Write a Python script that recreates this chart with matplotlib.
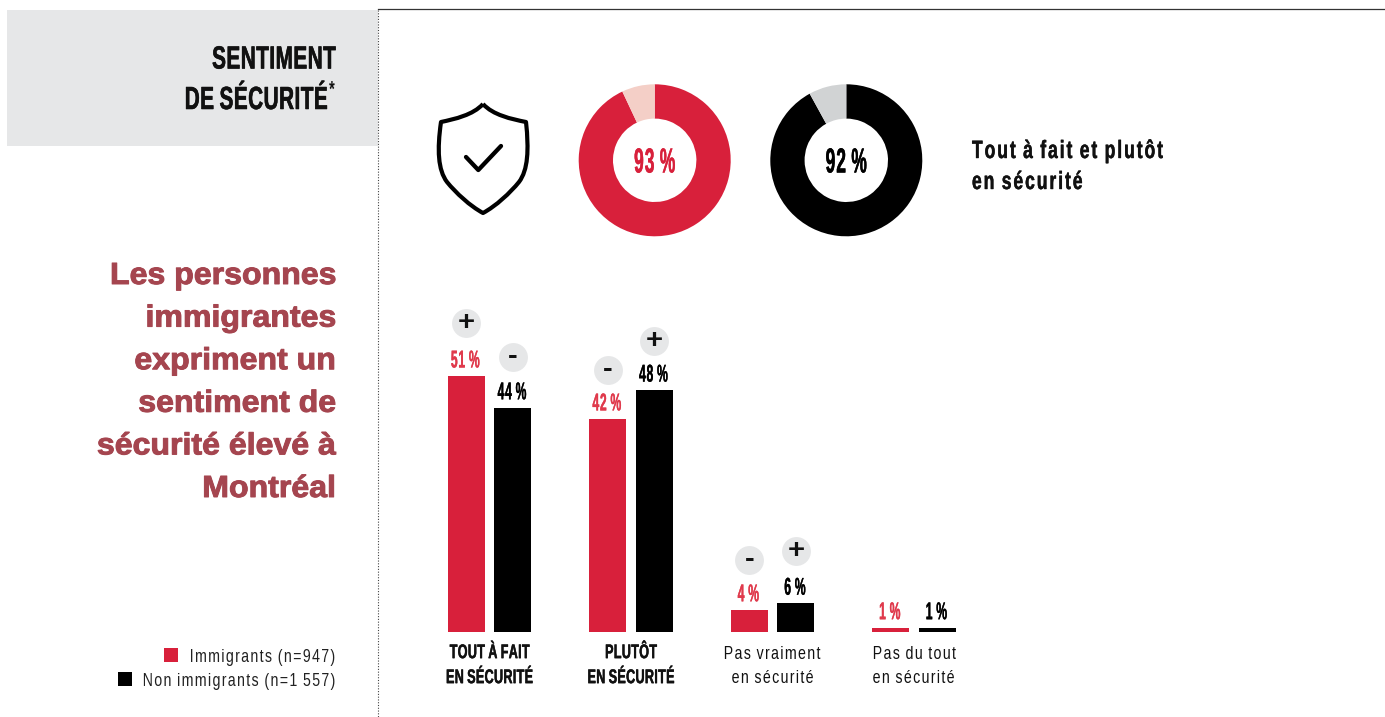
import matplotlib
matplotlib.use("Agg")
import matplotlib.pyplot as plt
from matplotlib import font_manager as fm
from matplotlib.font_manager import FontProperties as FP
from matplotlib.patches import Rectangle, PathPatch
from matplotlib.path import Path
from matplotlib import patheffects as pe
from matplotlib.transforms import ScaledTranslation
from fontTools.ttLib import TTFont
from fontTools.ttLib.tables._g_l_y_f import GlyphCoordinates

W, H = 1385, 717
RED, BLACK = "#D8203B", "#000000"
PALE, GREY = "#F4CFC7", "#D1D3D4"
BADGE = "#E6E7E8"
MAROON = "#A5454F"

categories = ["TOUT À FAIT\nEN SÉCURITÉ", "PLUTÔT\nEN SÉCURITÉ", "Pas vraiment\nen sécurité", "Pas du tout\nen sécurité"]
# printed (rounded) percentages
immigrants = [51, 42, 4, 1]
non_immigrants = [44, 48, 6, 1]
# bar heights
immigrants_heights = [50.7, 42.2, 4.4, 0.85]
non_immigrants_heights = [44.4, 47.9, 5.7, 0.85]
badges_imm = ["+", "-", "-", ""]
badges_non = ["-", "+", "+", ""]
donut_imm = [93, 7]
donut_non = [92, 8]
legend_labels = ["Immigrants (n=947)", "Non immigrants (n=1 557)"]


def scaled_font(base, weight, k, track, space, out):
    """Write a narrowed copy of an installed font, since no condensed family is installed."""
    src = fm.findfont(FP(family=base, weight=weight))
    f = TTFont(src)
    glyf, hmtx = f["glyf"], f["hmtx"]
    for gn in f.getGlyphOrder():
        g = glyf[gn]
        if g.isComposite():
            for c in g.components:
                c.x = round(c.x * k)
        elif g.numberOfContours > 0:
            g.coordinates = GlyphCoordinates([(round(x * k) + track // 2, y) for x, y in g.coordinates])
        if hasattr(g, "program") or g.isComposite():
            g.removeHinting()
        adv, lsb = hmtx[gn]
        hmtx[gn] = (round(adv * k) + track, round(lsb * k) + track // 2)
    if "space" in hmtx.metrics:
        adv, lsb = hmtx["space"]
        hmtx["space"] = (round(adv * space), lsb)
    for t in ("kern", "GPOS", "GSUB", "fpgm", "prep", "cvt ", "hdmx", "VDMX", "LTSH", "gasp"):
        if t in f:
            del f[t]
    f.save(out)
    return FP(fname=out)


F_NUM = scaled_font("Liberation Sans", "bold", 0.50, 60, 0.75, "f_num.ttf")
F_TITLE = scaled_font("Liberation Sans", "bold", 0.65, 30, 0.8, "f_title.ttf")
F_BODY = scaled_font("Liberation Sans", "bold", 0.70, 160, 0.8, "f_body.ttf")
F_TICKB = scaled_font("Liberation Sans", "bold", 0.64, 30, 0.8, "f_tickb.ttf")
F_REG = scaled_font("Liberation Sans", "normal", 0.74, 150, 0.8, "f_reg.ttf")
F_HEAD = scaled_font("Liberation Sans", "bold", 1.05, 0, 1.0, "f_head.ttf")


def fp(base, size):
    p = base.copy()
    p.set_size(size)
    return p


def thick(t, col, w=0.35):
    t.set_path_effects([pe.withStroke(linewidth=w, foreground=col)])
    return t


fig = plt.figure(figsize=(W / 100, H / 100), dpi=100, facecolor="white")


def axes_px(x0, y0, x1, y1, **kw):
    return fig.add_axes([x0 / W, 1 - y1 / H, (x1 - x0) / W, (y1 - y0) / H], **kw)


# page furniture, in pixel coordinates
bg = axes_px(0, 0, W, H)
bg.set_xlim(0, W); bg.set_ylim(H, 0); bg.axis("off")
bg.add_patch(Rectangle((7, 10), 371, 136, fc="#E6E7E8", ec="none"))
bg.plot([378, W], [9, 9], color="#333333", lw=0.9)
bg.plot([378, 378], [10, H], color="#444444", lw=0.8, ls=(0, (1, 1.5)))
thick(bg.text(336.5, 68.5, "SENTIMENT", ha="right", va="baseline", fontproperties=fp(F_TITLE, 23), color="#111111"), "#111111", 0.4)
thick(bg.text(328.5, 109, "DE SÉCURITÉ", ha="right", va="baseline", fontproperties=fp(F_TITLE, 23), color="#111111"), "#111111", 0.4)
bg.text(329, 96, "*", ha="left", va="baseline", fontproperties=fp(F_TITLE, 16), color="#111111")
headline = ["Les personnes", "immigrantes", "expriment un", "sentiment de", "sécurité élevé à", "Montréal"]
for i, line in enumerate(headline):
    thick(bg.text(335.5, 284 + i * 42.6, line, ha="right", va="baseline", fontproperties=fp(F_HEAD, 22), color=MAROON), MAROON, 0.7)
thick(bg.text(971, 158, "Tout à fait et plutôt", ha="left", va="baseline", fontproperties=fp(F_BODY, 18), color="#111111"), "#111111", 0.3)
thick(bg.text(971, 189, "en sécurité", ha="left", va="baseline", fontproperties=fp(F_BODY, 18), color="#111111"), "#111111", 0.3)

# shield icon
P = Path
verts = [(483, 104), (473, 115), (455, 119), (441, 122),
         (437, 150), (438, 170), (447, 182),
         (456, 193), (470, 206), (483, 213),
         (496, 206), (510, 193), (519, 182),
         (528, 170), (529, 150), (526, 122),
         (511, 119), (493, 115), (483, 104)]
codes = [P.MOVETO] + [P.CURVE4] * 18
bg.add_patch(PathPatch(Path(verts, codes), fc="none", ec="black", lw=3.0, joinstyle="round"))
bg.plot([466, 478.3, 501], [157, 170, 146], color="black", lw=3.1, solid_capstyle="round", solid_joinstyle="round")

# donuts
R = 76
for cx, vals, cols, col in [(654.7, donut_imm, [RED, PALE], RED), (846.3, donut_non, [BLACK, GREY], BLACK)]:
    a = axes_px(cx - R, 160.3 - R, cx + R, 160.3 + R)
    a.pie(vals, colors=cols, startangle=90, counterclock=False, radius=1,
          wedgeprops=dict(width=1 - 41.7 / 76, linewidth=0))
    a.set_xlim(-1, 1); a.set_ylim(-1, 1)
    thick(a.text(0, -0.035, f"{vals[0]} %", ha="center", va="center", fontproperties=fp(F_NUM, 25), color=col), col, 0.3)

# bars
PX_PER_UNIT = 5.05
STEP = 141.5
x0_px, x1_px = 420, 1000
base_y, top_y = 632, 300
ax = axes_px(x0_px, top_y, x1_px, base_y)
ax.set_xlim((x0_px - 489.5) / STEP, (x1_px - 489.5) / STEP)
ax.set_ylim(0, (base_y - top_y) / PX_PER_UNIT)
ax.patch.set_alpha(0)
for s in ax.spines.values():
    s.set_visible(False)
ax.yaxis.set_visible(False)
width = 37 / STEP
off = 23.3 / STEP
series = [(immigrants, immigrants_heights, RED, -1, badges_imm, [53, 49, 50, 0]),
          (non_immigrants, non_immigrants_heights, BLACK, 1, badges_non, [51, 49, 52, 0])]
for labels, heights, col, sign, badge, lifts in series:
    xs = [i + sign * off for i in range(len(heights))]
    ax.bar(xs, heights, width=width, color=col, linewidth=0)
    for x, v, h, b, lift in zip(xs, labels, heights, badge, lifts):
        tcol = "#E03A4C" if col == RED else BLACK
        thick(ax.annotate(f"{v} %", (x, h), xytext=(-1, 3.5), textcoords="offset pixels", ha="center", va="bottom",
                          fontproperties=fp(F_NUM, 17.5), color=tcol, annotation_clip=False), tcol, 0.2)
        if b:
            ax.annotate(b, (x, h), xytext=(0, lift), textcoords="offset pixels", ha="center", va="center",
                        fontproperties=fp(F_HEAD, 20), color="#111111", annotation_clip=False, zorder=5)
            ax.plot([x], [h + lift / PX_PER_UNIT], marker="o", ms=20.8, mfc=BADGE, mec="none", clip_on=False, zorder=4)
ax.set_xticks(range(len(categories)))
ax.set_xticklabels(categories, color="#111111")
ax.tick_params(axis="x", length=0, pad=8)
for i, lab in enumerate(ax.get_xticklabels()):
    if i < 2:
        lab.set_fontproperties(fp(F_TICKB, 14.2))
        lab.set_linespacing(1.4)
        lab.set_path_effects([pe.withStroke(linewidth=0.3, foreground="#111111")])
    else:
        lab.set_fontproperties(fp(F_REG, 13.8))
        lab.set_linespacing(1.55)
        lab.set_transform(lab.get_transform() + ScaledTranslation(0, -3 / 100, fig.dpi_scale_trans))

# legend, in pixel coordinates
for y, lab, col, sx in [(661.5, legend_labels[0], RED, 164), (685.5, legend_labels[1], BLACK, 118)]:
    bg.add_patch(Rectangle((sx, y - 13.5), 14, 14, fc=col, ec="none"))
    bg.text(336, y, lab, ha="right", va="baseline", fontproperties=fp(F_REG, 13.8), color="#222222")

fig.savefig("out.png", dpi=100)
